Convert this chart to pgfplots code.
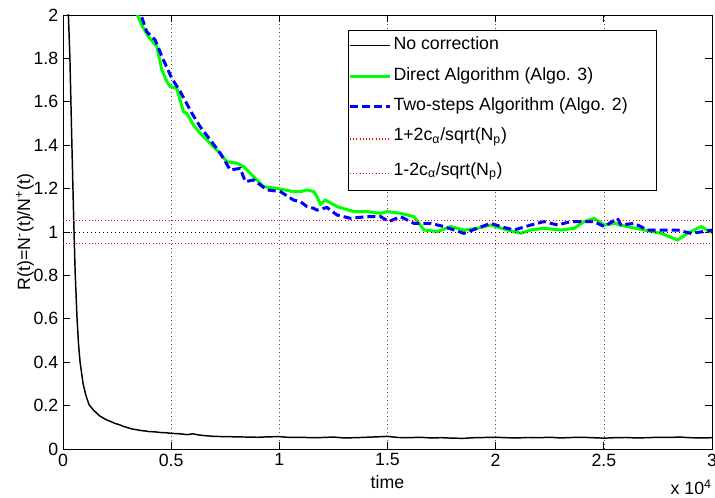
\documentclass[border=0pt]{standalone}
\usepackage{fontspec}
\setmainfont{Liberation Sans}
\usepackage{pgfplots}
\pgfplotsset{compat=1.18}
\newcommand\fs{\fontsize{13.3pt}{16pt}\selectfont}
% legend text: fixed width, struts give the row heights
\newcommand\lt[1]{\makebox[195.75pt][l]{\rule[-4pt]{0pt}{14pt}#1}}
\newcommand\ls[1]{\makebox[195.75pt][l]{\rule[-7.5pt]{0pt}{14.5pt}#1}}
\begin{document}
\begin{tikzpicture}[font=\fs]
\begin{axis}[
scale only axis,
width=486.75pt,height=325.5pt,
xmin=0,xmax=30000,ymin=0,ymax=2,
xtick={0,5000,10000,15000,20000,25000,30000},
xticklabels={0,0.5,1,1.5,2,2.5,3},
scaled x ticks=false,
ytick={0,0.2,0.4,0.6,0.8,1,1.2,1.4,1.6,1.8,2},
yticklabels={0,0.2,0.4,0.6,0.8,1,1.2,1.4,1.6,1.8,2},
tick label style={font=\fs},
label style={font=\fs},
tick align=inside,
major tick length=5pt,
axis line style={black,line width=0.6pt},
tick style={black,line width=0.6pt},
xmajorgrids,
grid style={black!70,line width=0.4pt,dash pattern=on 0.75pt off 2.25pt},
xlabel={time},
ylabel={R(t)=N\textsuperscript{-}(t)/N\textsuperscript{+}(t)},
ylabel shift=-7pt,
every axis legend/.style={at={(axis description cs:0.949,0.979)},anchor=north east,
  xshift=-16.5pt,yshift=-4.5pt,
  shape=rectangle,fill=white,draw=black,line width=0.6pt,font=\fs,
  inner xsep=0pt,inner ysep=2.9pt,cells={anchor=west},
  nodes={inner sep=1.5pt,text depth=,text height=},row sep=5.8pt},
legend image code/.code={\draw[#1] (0pt,0pt) -- (30pt,0pt);},
after end axis/.code={\node[anchor=base east,inner sep=0pt] at ([yshift=-34.5pt]rel axis cs:1,0) {x 10\textsuperscript{4}};},
]
\addplot[black,line width=1.1pt] coordinates {
(150,2.6) (250,2.0) (320,1.8) (400,1.45) (460,1.2) (510,1.0) (560,0.82)
(650,0.6) (720,0.48) (790,0.4) (930,0.3) (1050,0.25) (1200,0.205)
(1400,0.18) (1700,0.152) (2000,0.135) (2200,0.127) (2400,0.118)
(2600,0.112) (2800,0.104) (3000,0.098) (3200,0.092) (3400,0.089)
(3600,0.085) (3800,0.083) (4000,0.080) (4250,0.079) (4500,0.076)
(4750,0.075) (5000,0.072) (5250,0.071) (5500,0.069) (5750,0.066)
(6000,0.070) (6250,0.065) (6500,0.062) (6750,0.060) (7000,0.058)
(7500,0.057) (8000,0.056) (8500,0.055) (9000,0.054) (9500,0.056)
(10000,0.057) (10500,0.053) (11000,0.054) (11500,0.052) (12000,0.053)
(12500,0.055) (13000,0.051) (13500,0.052) (14000,0.054) (14500,0.056)
(15000,0.058) (15500,0.053) (16000,0.052) (16500,0.054) (17000,0.051)
(17500,0.052) (18000,0.050) (18500,0.049) (19000,0.052) (19500,0.053)
(20000,0.054) (20500,0.052) (21000,0.051) (21500,0.053) (22000,0.052)
(22500,0.054) (23000,0.051) (23500,0.053) (24000,0.054) (24500,0.052)
(25000,0.050) (25500,0.052) (26000,0.053) (26500,0.051) (27000,0.052)
(27500,0.054) (28000,0.053) (28500,0.055) (29000,0.052) (29500,0.051)
(30000,0.052)
};
\addlegendentry{\lt{No correction}}
\addplot[green,line width=2.25pt] coordinates {
(3440,2.000) (3640,1.954) (3950,1.900) (4340,1.854) (4570,1.747)
(4800,1.693) (4950,1.670) (5260,1.662) (5570,1.554) (5720,1.547)
(6030,1.493) (6340,1.455) (6650,1.424) (7110,1.378) (7580,1.324)
(8040,1.317) (8350,1.301) (8810,1.255) (9270,1.209) (9890,1.201)
(10660,1.186) (10970,1.186) (11280,1.194) (11590,1.186) (11740,1.163)
(11900,1.128) (12130,1.147) (12670,1.117) (13440,1.094) (14060,1.094)
(14680,1.086) (14980,1.094) (15600,1.086) (16220,1.071) (16690,1.009)
(17300,1.002) (17920,1.025) (18530,1.009) (19150,1.017) (19770,1.032)
(20540,1.009) (21160,0.994) (21620,1.009) (22240,1.017) (23010,1.009)
(23630,1.017) (24090,1.048) (24550,1.063) (25020,1.032) (25480,1.040)
(26100,1.025) (26870,1.009) (27640,0.994) (28410,0.963) (28870,0.994)
(29490,1.025) (30000,0.997)
};
\addlegendentry{\lt{Direct Algorithm (Algo. 3)}}
\addplot[blue,line width=2.25pt,dash pattern=on 6pt off 3pt] coordinates {
(3640,1.990) (3870,1.923) (4260,1.885) (4640,1.793) (5030,1.708)
(5420,1.647) (5960,1.547) (6340,1.485) (6810,1.424) (7270,1.363)
(7730,1.286) (8190,1.293) (8430,1.232) (8810,1.240) (9430,1.194)
(10050,1.186) (10660,1.147) (10970,1.140) (11280,1.117) (11590,1.109)
(11740,1.101) (12200,1.113) (12670,1.078) (13290,1.063) (14060,1.071)
(14680,1.071) (15060,1.048) (15600,1.071) (16220,1.040) (16990,1.040)
(17610,1.025) (18080,1.009) (18530,0.994) (19150,1.017) (19770,1.040)
(20230,1.025) (20850,1.009) (21620,1.032) (22240,1.048) (22860,1.032)
(23470,1.048) (24090,1.048) (24550,1.048) (25020,1.025) (25630,1.063)
(25790,1.032) (26400,1.040) (27020,1.009) (27790,1.009) (28410,1.009)
(29020,0.994) (29640,1.002) (30000,1.009)
};
\addlegendentry{\lt{Two-steps Algorithm (Algo. 2)}}
\addplot[color=red,draw=red,line width=0.8pt,dash pattern=on 0.8pt off 1.6pt] coordinates {(0,1.052) (30000,1.052)};
\addlegendentry{\ls{1+2c\textsubscript{α}/sqrt(N\textsubscript{p})}}
\addplot[color=red,draw=red,line width=0.8pt,dash pattern=on 0.8pt off 1.6pt] coordinates {(0,0.948) (30000,0.948)};
\addlegendentry{\ls{1-2c\textsubscript{α}/sqrt(N\textsubscript{p})}}
\addplot[black,line width=0.6pt,dash pattern=on 0.75pt off 2.25pt,forget plot] coordinates {(0,1) (30000,1)};
\end{axis}
\pgfresetboundingbox
\path[use as bounding box] ([xshift=-47.25pt,yshift=-36.75pt]current axis.south west)
  rectangle ([xshift=2.25pt,yshift=11.25pt]current axis.north east);
\end{tikzpicture}
\end{document}
